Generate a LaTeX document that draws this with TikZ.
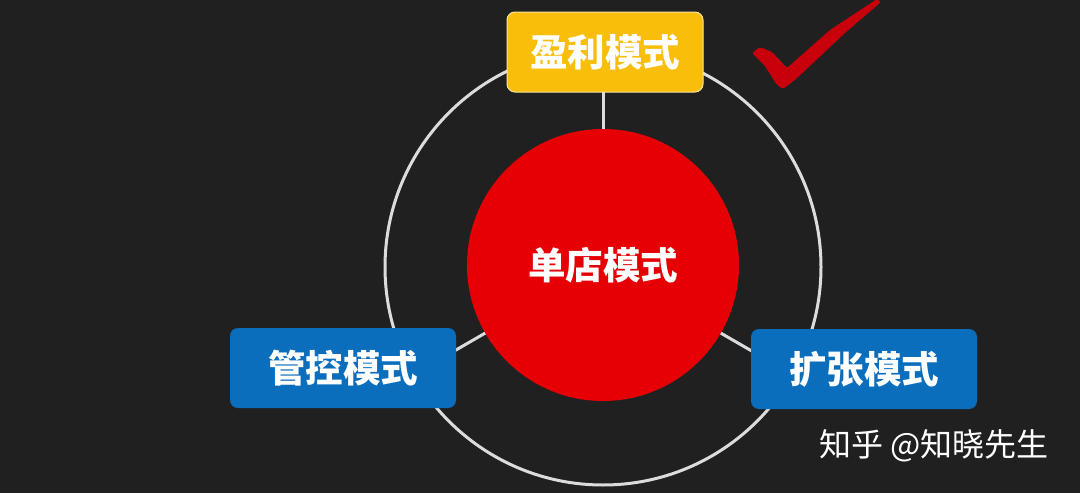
\documentclass[tikz,border=0pt]{standalone}
\usepackage{fontspec}
\newfontfamily\cjk{Noto Sans CJK SC}
\usetikzlibrary{calc}
\definecolor{bgc}{HTML}{202020}
\definecolor{ringc}{HTML}{DCDCDC}
\definecolor{redc}{HTML}{E60005}
\definecolor{goldc}{HTML}{F9BE0A}
\definecolor{goldedge}{HTML}{FBE3A0}
\definecolor{bluec}{HTML}{0B6EBD}
\definecolor{tickc}{HTML}{C8000C}
\tikzset{
  ring/.style={draw=ringc, line width=3pt},
  conn/.style={draw=ringc, line width=3pt},
  boxlabel/.style={rounded corners=8pt, minimum height=80pt, text=white,
    font=\cjk\bfseries\fontsize{37.5}{42}\selectfont, inner sep=0pt},
  goldbox/.style={boxlabel, fill=goldc, draw=goldedge, line width=1pt, minimum width=196pt},
  bluebox/.style={boxlabel, fill=bluec, minimum width=226pt},
  core/.style={circle, fill=redc, minimum size=272pt, inner sep=0pt, text=white,
    font=\cjk\bfseries\fontsize{37.5}{42}\selectfont},
  wmark/.style={text=white, font=\cjk\fontsize{32}{36}\selectfont, inner sep=0pt}
}
\begin{document}
\begin{tikzpicture}[x=1pt, y=-1pt]
\fill[bgc] (0,0) rectangle (1080,493);
\useasboundingbox (0,0) rectangle (1080,493);
% outer ring
\draw[ring] (603,267) circle[radius=218];
% connector end points
\coordinate (O) at (603,265);
\coordinate (Tend) at (603,52);
\coordinate (Lend) at (430,365);
\coordinate (Rend) at (776,365);
\draw[conn] (O) -- (Tend);
\draw[conn] (O) -- (Lend);
\draw[conn] (O) -- (Rend);
% nodes
\node[core] (core) at (O) {单店模式};
\node[goldbox] (profit) at (605,52) {盈利模式};
\node[bluebox] (control) at (343,368) {管控模式};
\node[bluebox] (expand) at (864,369) {扩张模式};
\node[wmark] (wm) at (934,446) {知乎 @知晓先生};
% check mark
\fill[tickc, rounded corners=2pt] (752,53) -- (760,47) -- (772,52) -- (787,68)
  -- (830,30) -- (877,-1) -- (881,2) -- (846,32) -- (796,79) -- (783,89)
  -- (777,85) -- (765,66) -- cycle;
\end{tikzpicture}
\end{document}
